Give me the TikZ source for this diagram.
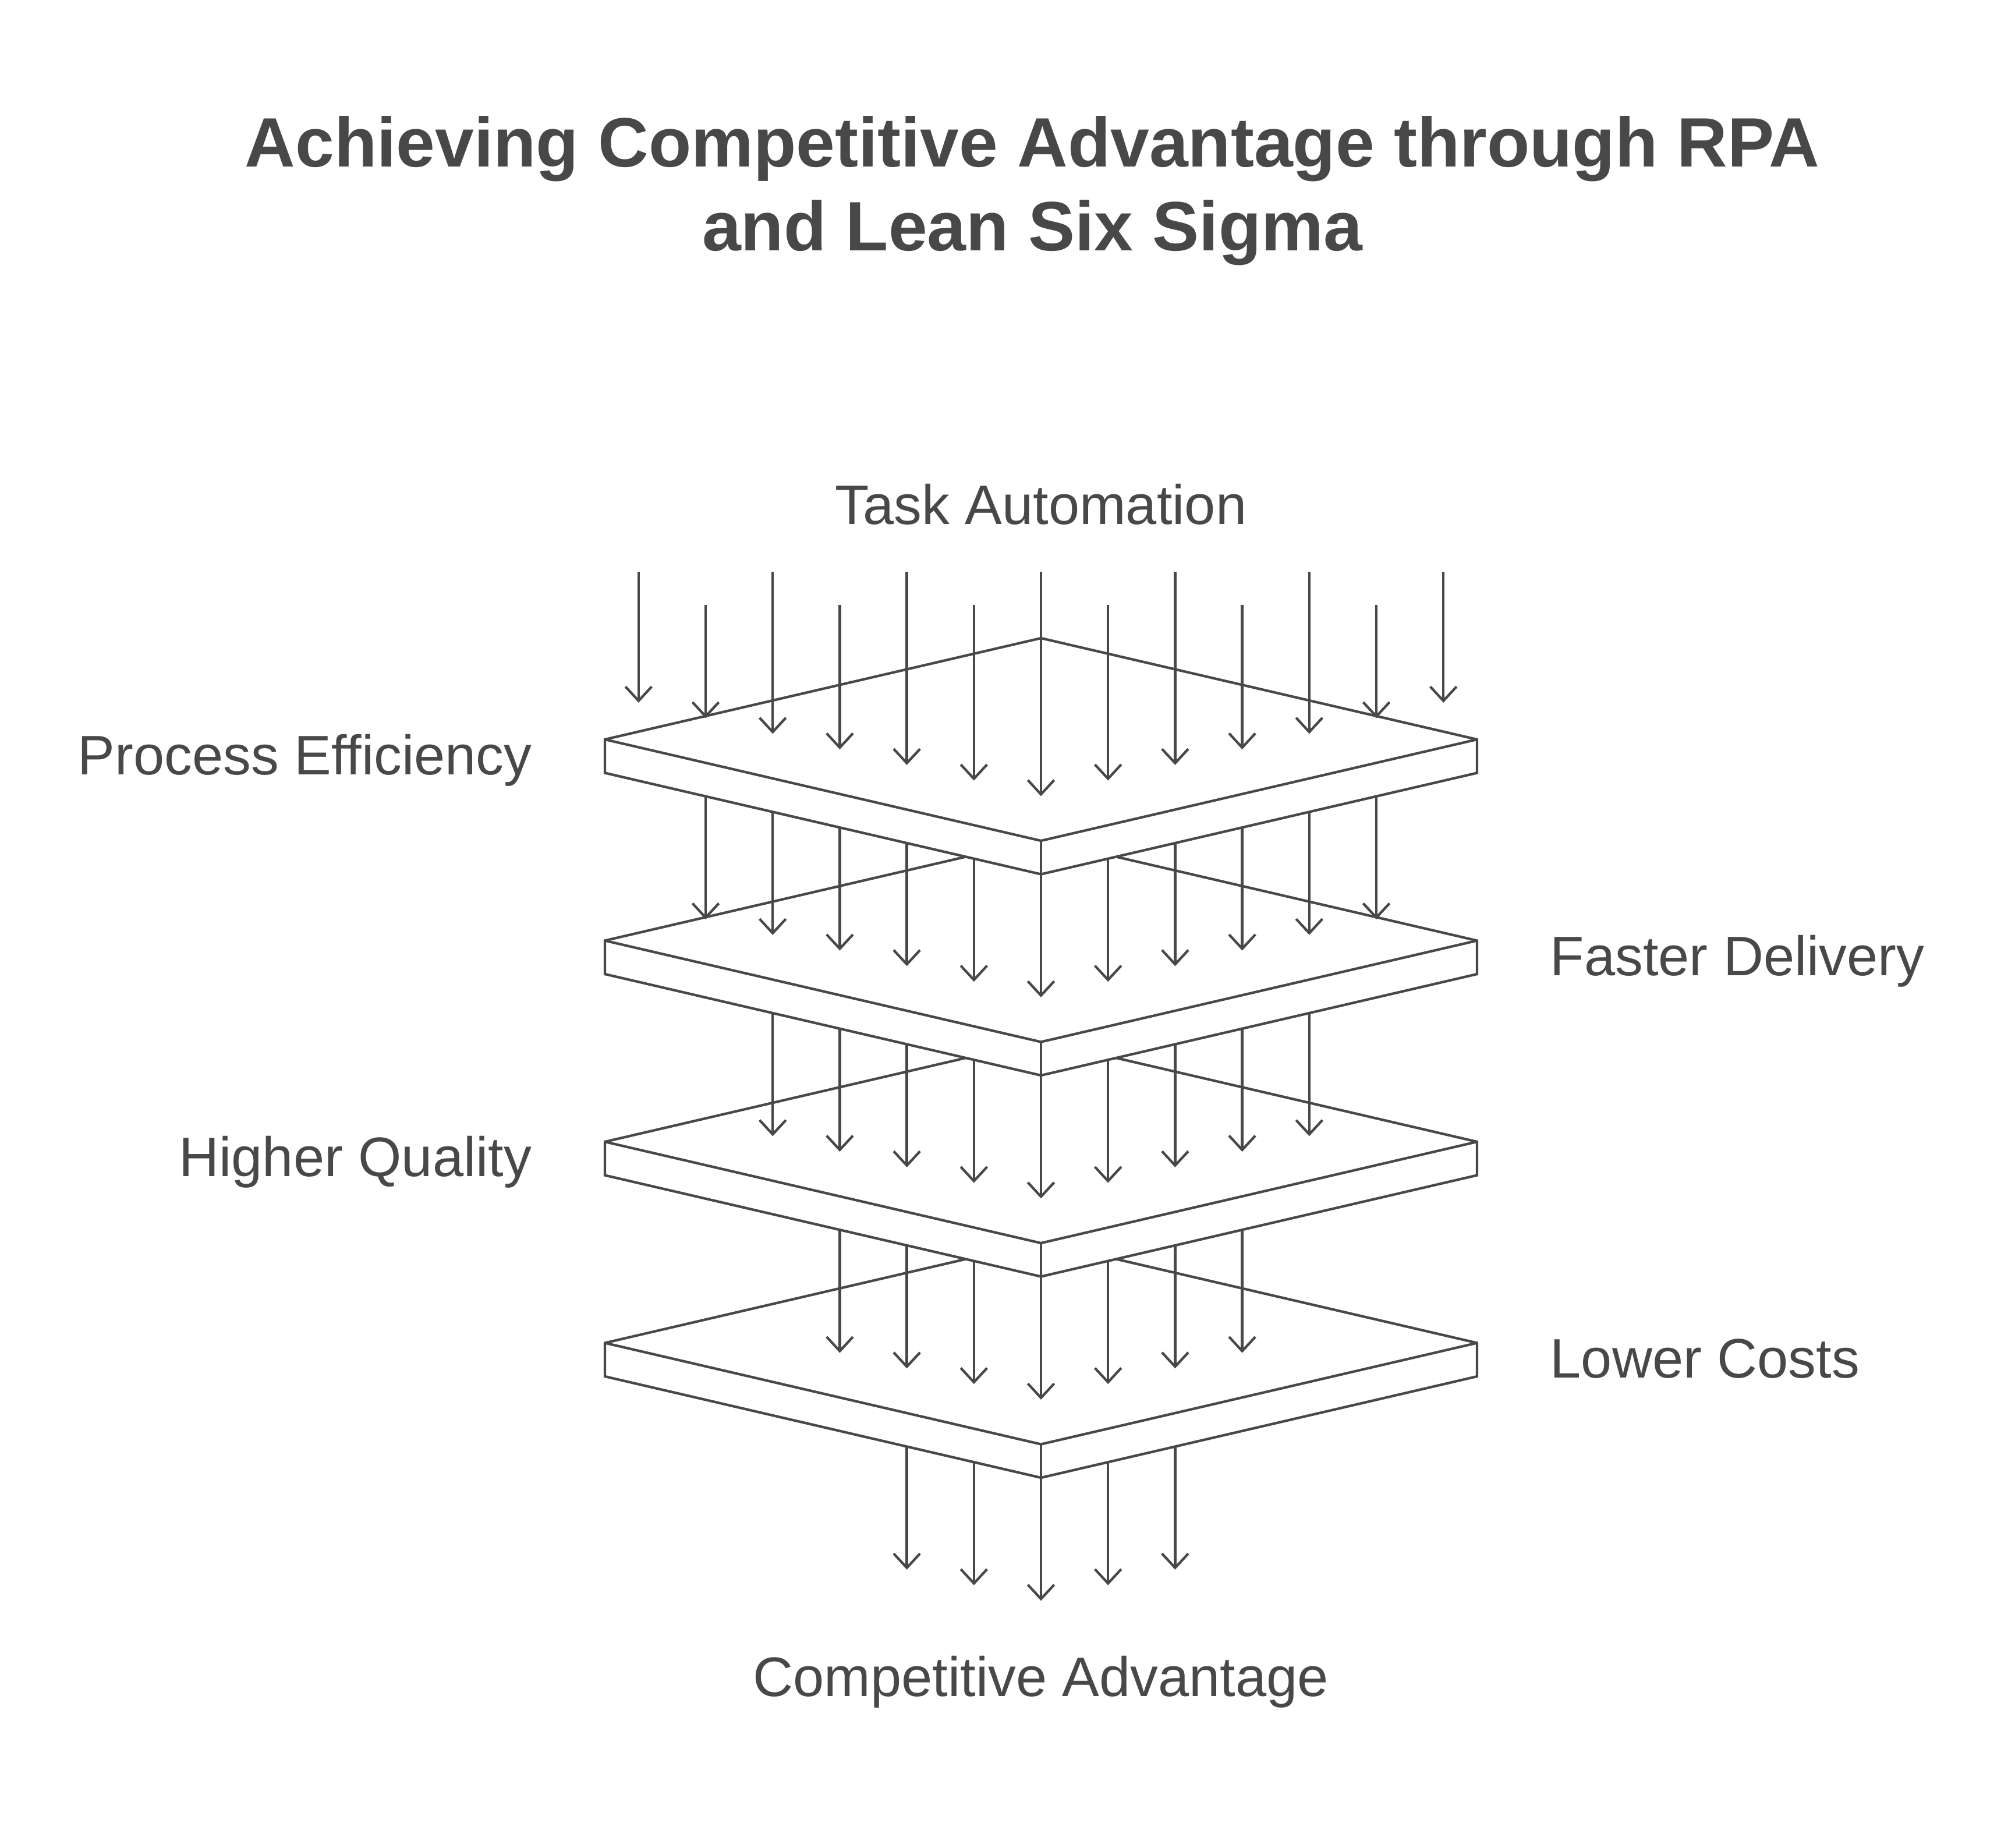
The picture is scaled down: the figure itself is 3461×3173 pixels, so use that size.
\documentclass[tikz,border=0pt]{standalone}
\usepackage{fontspec}
\setmainfont{Liberation Sans}
\usetikzlibrary{arrows.meta}
\definecolor{ink}{HTML}{484848}
\begin{document}
\begin{tikzpicture}[x=0.25pt,y=-0.25pt,
  ln/.style={draw=ink,line width=1.08pt,line join=miter},
  arr/.style={ln,-{Straight Barb[length=6.1pt,width=11.3pt]}},
  plate/.style={ln,fill=white},
  lbl/.style={text=ink,font=\fontsize{23.9}{28.7}\selectfont,inner sep=0pt},
  ttl/.style={text=ink,font=\fontsize{30}{36}\selectfont\bfseries,inner sep=0pt}]
\useasboundingbox[fill=white] (0,0) rectangle (3461,3173);

% title
\node[ttl,anchor=base] (t1) at (1773,286.7) {Achieving Competitive Advantage through RPA};
\node[ttl,anchor=base] (t2) at (1773,430.7) {and Lean Six Sigma};

% labels
\node[lbl,anchor=base] (ta) at (1788,900) {Task Automation};
\node[lbl,anchor=base] (ca) at (1788,2913) {Competitive Advantage};
\node[lbl,anchor=base east] (pe) at (914,1330) {Process Efficiency};
\node[lbl,anchor=base east] (hq) at (914,2020) {Higher Quality};
\node[lbl,anchor=base west] (fd) at (2662,1675) {Faster Delivery};
\node[lbl,anchor=base west] (lc) at (2662,2366) {Lower Costs};

% plates and arrows, drawn from the bottom up
\foreach \k in {4,3,2,1}{
  \pgfmathtruncatemacro\m{6-\k}
  \pgfmathsetmacro\ys{1270+345.5*(\k-1)}
  \foreach \j in {-6,...,6}{
    \pgfmathtruncatemacro\aj{abs(\j)}
    \ifnum\aj>\m\relax\else
      \pgfmathsetmacro\xj{1788+115.2*\j}
      \pgfmathsetmacro\ye{1367.4+345.5*\k-26.76*\aj}
      \draw[arr] (\xj,\ys) -- (\xj,\ye);
    \fi
  }
  \pgfmathsetmacro\yc{1270+345.5*(\k-1)}
  \pgfmathsetmacro\yt{\yc-174}
  \pgfmathsetmacro\yb{\yc+174}
  \pgfmathsetmacro\ycb{\yc+57.5}
  \pgfmathsetmacro\ybb{\yb+57.5}
  \filldraw[plate] (1039,\yc) -- (1788,\yt) -- (2537,\yc) -- (2537,\ycb)
     -- (1788,\ybb) -- (1039,\ycb) -- cycle;
  \draw[ln] (1039,\yc) -- (1788,\yb) -- (2537,\yc);
  \draw[ln] (1788,\yb) -- (1788,\ybb);
}

% top arrows
\foreach \j in {-6,...,6}{
  \pgfmathtruncatemacro\aj{abs(\j)}
  \pgfmathsetmacro\xj{1788+115.2*\j}
  \pgfmathsetmacro\ys{mod(\aj,2)==0 ? 981.5 : 1039}
  \pgfmathsetmacro\ye{1367.4-26.76*\aj}
  \draw[arr] (\xj,\ys) -- (\xj,\ye);
}
\end{tikzpicture}
\end{document}
